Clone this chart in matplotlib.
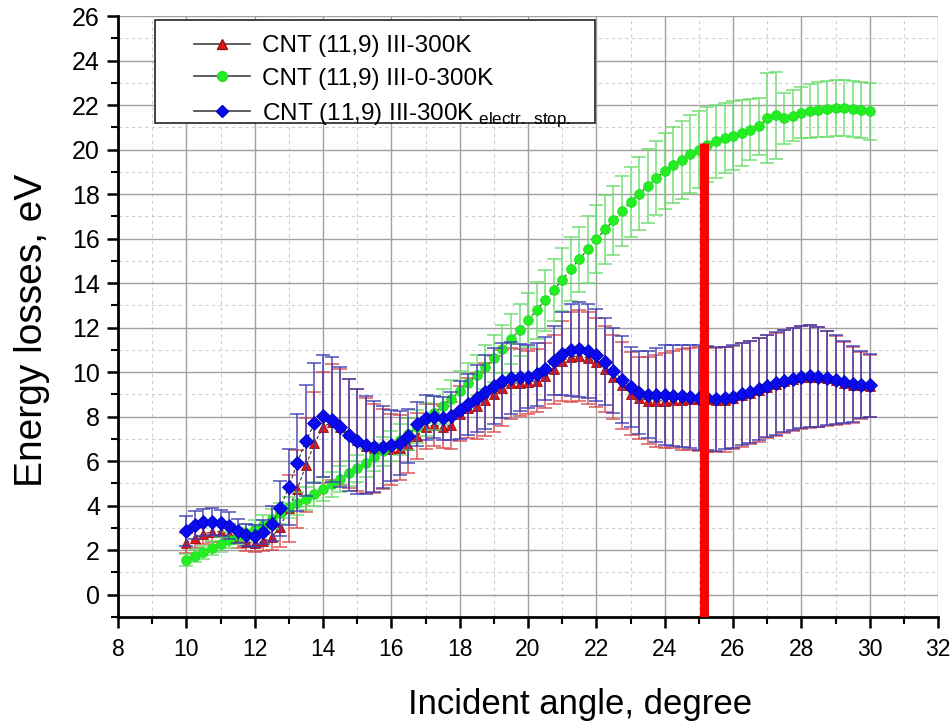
import numpy as np
import matplotlib
matplotlib.use("Agg")
import matplotlib.pyplot as plt
from matplotlib.lines import Line2D
from matplotlib.patches import Rectangle
from matplotlib.ticker import MultipleLocator

plt.rcParams["font.family"] = ["Liberation Sans", "DejaVu Sans"]

# incident angle, degree
angle = np.arange(10, 30.001, 0.25)

# CNT (11,9) III-300K
red_y = [2.33, 2.56, 2.74, 2.83, 2.83, 2.73, 2.54, 2.36, 2.31, 2.40,
         2.58, 3.06, 3.88, 4.77, 5.82, 6.80, 7.52, 7.77, 7.55, 7.25,
         6.95, 6.70, 6.58, 6.53, 6.53, 6.61, 6.71, 7.13, 7.55, 7.61,
         7.55, 7.61, 8.14, 8.40, 8.48, 8.77, 9.02, 9.29, 9.49, 9.52,
         9.54, 9.62, 9.84, 10.14, 10.51, 10.68, 10.74, 10.63, 10.44, 10.14,
         9.79, 9.40, 9.04, 8.85, 8.72, 8.70, 8.72, 8.77, 8.77, 8.80,
         8.80, 8.78, 8.74, 8.77, 8.85, 8.97, 9.07, 9.20, 9.34, 9.46,
         9.58, 9.68, 9.77, 9.80, 9.78, 9.72, 9.63, 9.52, 9.43, 9.40,
         9.37]
red_err = [0.45, 0.45, 0.45, 0.45, 0.45, 0.45, 0.42, 0.40, 0.40, 0.42,
           0.55, 0.90, 1.50, 1.75, 2.10, 2.30, 2.50, 2.60, 2.60, 2.45,
           2.30, 2.15, 2.00, 1.80, 1.60, 1.45, 1.25, 1.05, 1.00, 0.95,
           0.95, 1.05, 1.25, 1.35, 1.50, 1.65, 1.70, 1.70, 1.60, 1.50,
           1.40, 1.40, 1.45, 1.55, 1.80, 2.00, 2.05, 2.05, 2.00, 1.95,
           1.90, 1.95, 1.85, 1.85, 1.95, 2.05, 2.15, 2.20, 2.25, 2.30,
           2.35, 2.35, 2.35, 2.35, 2.32, 2.32, 2.32, 2.32, 2.32, 2.32,
           2.32, 2.32, 2.32, 2.32, 2.25, 2.12, 2.00, 1.85, 1.70, 1.50,
           1.40]

# CNT (11,9) III-0-300K
green_y = [1.55, 1.75, 1.91, 2.09, 2.27, 2.45, 2.62, 2.78, 2.95, 3.15,
           3.40, 3.65, 3.92, 4.10, 4.31, 4.52, 4.75, 4.96, 5.20, 5.45,
           5.68, 5.91, 6.19, 6.44, 6.70, 6.97, 7.22, 7.55, 7.88, 8.17,
           8.47, 8.80, 9.14, 9.52, 9.87, 10.23, 10.62, 11.04, 11.49, 11.89,
           12.34, 12.78, 13.23, 13.69, 14.15, 14.62, 15.07, 15.52, 15.97, 16.41,
           16.82, 17.24, 17.64, 18.02, 18.36, 18.72, 19.02, 19.32, 19.55, 19.79,
           20.00, 20.22, 20.37, 20.52, 20.63, 20.76, 20.89, 21.04, 21.42, 21.54,
           21.40, 21.52, 21.66, 21.73, 21.79, 21.83, 21.86, 21.86, 21.82, 21.78,
           21.71]
green_err = [0.28, 0.30, 0.30, 0.32, 0.33, 0.35, 0.36, 0.38, 0.40, 0.42,
             0.44, 0.46, 0.48, 0.50, 0.52, 0.53, 0.55, 0.56, 0.57, 0.58,
             0.60, 0.62, 0.63, 0.65, 0.67, 0.69, 0.71, 0.73, 0.74, 0.75,
             0.78, 0.86, 0.90, 0.89, 0.91, 1.00, 1.06, 1.09, 1.13, 1.17,
             1.23, 1.28, 1.36, 1.39, 1.41, 1.43, 1.46, 1.50, 1.53, 1.53,
             1.54, 1.56, 1.57, 1.64, 1.67, 1.68, 1.71, 1.71, 1.75, 1.76,
             1.74, 1.67, 1.64, 1.58, 1.56, 1.48, 1.38, 1.27, 2.04, 1.96,
             1.16, 1.15, 1.13, 1.21, 1.24, 1.26, 1.26, 1.26, 1.27, 1.26,
             1.27]

# CNT (11,9) III-300K, electronic stopping
blue_y = [2.86, 3.13, 3.25, 3.28, 3.22, 3.10, 2.86, 2.70, 2.65, 2.82,
          3.20, 3.88, 4.85, 5.94, 6.92, 7.70, 8.02, 7.87, 7.55, 7.19,
          6.90, 6.71, 6.65, 6.64, 6.71, 6.81, 7.13, 7.67, 7.96, 8.00,
          7.92, 8.02, 8.28, 8.56, 8.83, 9.11, 9.38, 9.62, 9.74, 9.77,
          9.80, 9.90, 10.16, 10.51, 10.83, 11.00, 11.03, 10.96, 10.77, 10.46,
          10.07, 9.66, 9.34, 9.08, 8.99, 8.97, 8.97, 8.95, 8.93, 8.90,
          8.86, 8.83, 8.80, 8.84, 8.90, 9.01, 9.10, 9.23, 9.37, 9.49,
          9.61, 9.70, 9.79, 9.82, 9.79, 9.73, 9.65, 9.55, 9.46, 9.43,
          9.40]
blue_err = [0.66, 0.62, 0.60, 0.60, 0.60, 0.60, 0.55, 0.50, 0.50, 0.55,
            0.80, 1.23, 1.70, 2.20, 2.50, 2.70, 2.75, 2.80, 2.70, 2.52,
            2.36, 2.20, 2.05, 1.83, 1.58, 1.45, 1.22, 1.00, 1.00, 0.95,
            0.98, 1.08, 1.30, 1.37, 1.50, 1.65, 1.70, 1.70, 1.60, 1.50,
            1.40, 1.40, 1.42, 1.55, 1.85, 2.08, 2.13, 2.10, 2.05, 1.95,
            1.90, 1.95, 1.80, 1.85, 1.97, 2.10, 2.23, 2.27, 2.30, 2.33,
            2.35, 2.35, 2.33, 2.30, 2.30, 2.30, 2.30, 2.30, 2.30, 2.30,
            2.30, 2.30, 2.30, 2.30, 2.25, 2.10, 2.00, 1.85, 1.70, 1.50,
            1.40]

labels = ["CNT (11,9) III-300K",
          "CNT (11,9) III-0-300K",
          r"CNT (11,9) III-300K$_{\mathregular{\ electr.\ stop.}}$"]

# vertical marker
mark_x = 25.15
mark_top = 20.3

fig = plt.figure(figsize=(9.51, 7.24), dpi=100)
ax = fig.add_axes([0.1241, 0.1478, 0.8623, 0.8301])

series = [
    (red_y, red_err, "^", "#e01515", "#9a1010", "#d84848", 7.5),
    (green_y, green_err, "o", "#22ee22", "#22dd22", "#66dd66", 7.0),
    (blue_y, blue_err, "D", "#0a0aee", "#0000c0", "#3c3cb4", 7.5),
]
for z, (y, err, m, fc, ec, bc, ms) in enumerate(series):
    ax.errorbar(angle, y, yerr=err, fmt="none", ecolor=bc, elinewidth=1.1,
                capsize=5, capthick=1.1, alpha=0.9, zorder=2 + z)
    ax.plot(angle, y, color="#333333", lw=0.8, ls=(0, (3, 2)), zorder=2.5 + z)
    ax.plot(angle, y, ls="none", marker=m, ms=ms, mfc=fc, mec=ec, mew=0.6,
            zorder=2.6 + z)

ax.plot([mark_x, mark_x], [-1, mark_top], color="#ff0000", lw=6.5,
        solid_capstyle="butt", zorder=10)

ax.set_xlim(8, 32)
ax.set_ylim(-1, 26)
ax.xaxis.set_major_locator(MultipleLocator(2))
ax.xaxis.set_minor_locator(MultipleLocator(1))
ax.yaxis.set_major_locator(MultipleLocator(2))
ax.yaxis.set_minor_locator(MultipleLocator(1))
ax.set_yticks(np.arange(0, 27, 2))

ax.grid(which="major", color="#a0a0a0", lw=1.0, ls="-")
ax.grid(which="minor", color="#cfcfcf", lw=0.8, ls=(0, (3, 3)))
ax.set_axisbelow(True)

for s in ["top", "right"]:
    ax.spines[s].set_visible(False)
for s in ["left", "bottom"]:
    ax.spines[s].set_linewidth(2)

ax.tick_params(which="major", direction="out", length=8, width=1.8)
ax.tick_params(which="minor", direction="out", length=5, width=1.5)
ax.tick_params(axis="y", labelsize=18, pad=5)
ax.tick_params(axis="x", labelsize=16.5, pad=7)

ax.set_ylabel("Energy losses, eV", fontsize=28)
ax.yaxis.set_label_coords(-0.083, 0.477)
ax.set_xlabel("Incident angle, degree", fontsize=25)
ax.xaxis.set_label_coords(0.563, -0.118)

handles = [
    Line2D([], [], color="#444444", lw=1.2, marker="^", ms=7,
           mfc="#e01515", mec="#9a1010"),
    Line2D([], [], color="#444444", lw=1.2, marker="o", ms=7,
           mfc="#22ee22", mec="#22dd22"),
    Line2D([], [], color="#444444", lw=1.2, marker="D", ms=6.5,
           mfc="#0a0aee", mec="#0000c0"),
]
leg = ax.legend(handles, labels, loc="upper left",
                bbox_to_anchor=(194 / 951, 1 - 35 / 724),
                bbox_transform=fig.transFigure, fontsize=17.5, frameon=False,
                handlelength=2.3, labelspacing=0.45, borderpad=0,
                handletextpad=0.5, borderaxespad=0)
leg.set_zorder(20)

# legend box
box = Rectangle((155 / 951, 1 - 123 / 724), 440 / 951, 103 / 724,
                transform=fig.transFigure, facecolor="white",
                edgecolor="#222222", lw=1.2, zorder=19)
ax.add_artist(box)

fig.savefig("out.png", dpi=100)
